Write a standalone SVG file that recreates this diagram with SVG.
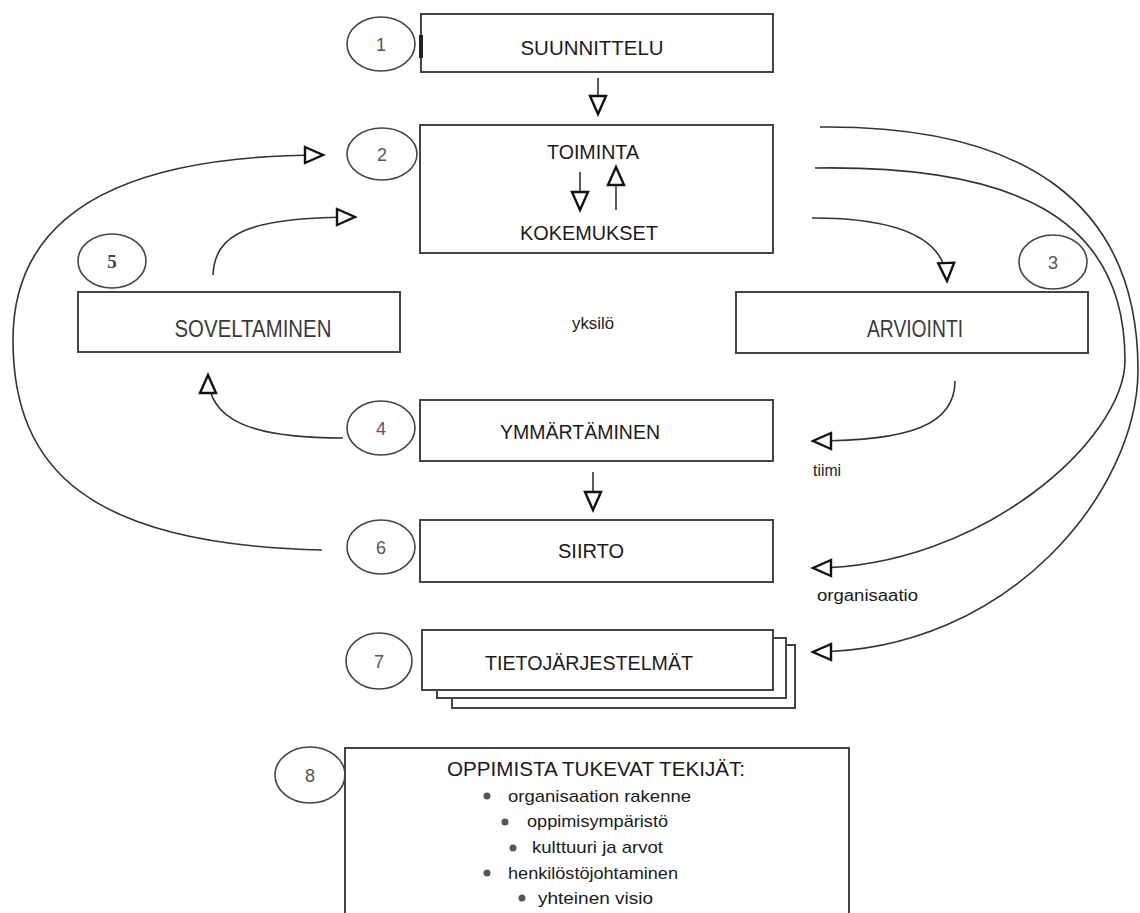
<svg xmlns="http://www.w3.org/2000/svg" width="1140" height="913" viewBox="0 0 1140 913">
  <style>
    .box { fill: #fff; stroke: #444; stroke-width: 2; }
    .num { fill: none; stroke: #444; stroke-width: 1.6; }
    .lbl { font-family: "Liberation Sans", Arial, sans-serif; font-size: 20px; fill: #1a1a1a; text-anchor: middle; }
    .narrow { font-family: "Liberation Sans", Arial, sans-serif; font-size: 24px; fill: #3a3a3a; text-anchor: middle; }
    .digit { font-family: "Liberation Sans", Arial, sans-serif; font-size: 18px; fill: #555; text-anchor: middle; }
    .small { font-family: "Liberation Sans", Arial, sans-serif; font-size: 16px; fill: #1a1a1a; }
    .item { font-family: "Liberation Sans", Arial, sans-serif; font-size: 17px; fill: #1a1a1a; }
    .dot { fill: #555; }
    .link { fill: none; stroke: #333; stroke-width: 1.6; }
  </style>
  <defs>
    <marker id="tri" viewBox="0 0 22 20" refX="20" refY="10" markerWidth="22" markerHeight="20" markerUnits="userSpaceOnUse" orient="auto" overflow="visible">
      <path d="M2,2 L20,10 L2,18 Z" fill="#fff" stroke="#111" stroke-width="2.4" stroke-linejoin="miter"/>
    </marker>
  </defs>
  <rect width="1140" height="913" fill="#fff"/>

  <!-- 1 Suunnittelu -->
  <g id="node1">
    <rect class="box" x="421" y="14" width="352" height="58"/>
    <line x1="421" y1="35" x2="421" y2="58" stroke="#222" stroke-width="4"/>
    <ellipse class="num" cx="381" cy="44" rx="34" ry="27"/>
    <text class="digit" x="381" y="51">1</text>
    <text class="lbl" x="592" y="55" textLength="143" lengthAdjust="spacingAndGlyphs">SUUNNITTELU</text>
  </g>

  <!-- 2 Toiminta / Kokemukset -->
  <g id="node2">
    <rect class="box" x="420" y="125" width="353" height="128"/>
    <ellipse class="num" cx="382" cy="154" rx="35" ry="26"/>
    <text class="digit" x="382" y="161">2</text>
    <text class="lbl" x="593" y="159" textLength="92" lengthAdjust="spacingAndGlyphs">TOIMINTA</text>
    <text class="lbl" x="589" y="240" textLength="138" lengthAdjust="spacingAndGlyphs">KOKEMUKSET</text>
  </g>

  <!-- 3 Arviointi -->
  <g id="node3">
    <rect class="box" x="736" y="292" width="352" height="61"/>
    <ellipse class="num" cx="1053" cy="262" rx="34" ry="27"/>
    <text class="digit" x="1053" y="269">3</text>
    <text class="narrow" x="915" y="337" textLength="96" lengthAdjust="spacingAndGlyphs">ARVIOINTI</text>
  </g>

  <!-- 5 Soveltaminen -->
  <g id="node5">
    <rect class="box" x="78" y="292" width="322" height="60"/>
    <ellipse class="num" cx="112" cy="261" rx="34" ry="27"/>
    <text x="112" y="268" font-family="'Liberation Serif', 'Times New Roman', serif" font-size="19" font-weight="bold" fill="#444" text-anchor="middle">5</text>
    <text class="narrow" x="253" y="337" textLength="157" lengthAdjust="spacingAndGlyphs">SOVELTAMINEN</text>
  </g>

  <!-- centre label -->
  <g id="yksilo">
    <text class="small" x="593" y="329" text-anchor="middle" textLength="42" lengthAdjust="spacingAndGlyphs">yksilö</text>
  </g>

  <!-- 4 Ymmärtäminen -->
  <g id="node4">
    <rect class="box" x="420" y="400" width="353" height="61"/>
    <ellipse class="num" cx="381" cy="428" rx="34" ry="27"/>
    <text class="digit" x="381" y="435">4</text>
    <text class="lbl" x="580" y="439" textLength="160" lengthAdjust="spacingAndGlyphs">YMMÄRTÄMINEN</text>
  </g>

  <g id="tiimi">
    <text class="small" x="813" y="476" textLength="28" lengthAdjust="spacingAndGlyphs">tiimi</text>
  </g>

  <!-- 6 Siirto -->
  <g id="node6">
    <rect class="box" x="420" y="520" width="353" height="62"/>
    <ellipse class="num" cx="381" cy="547" rx="34" ry="27"/>
    <text class="digit" x="381" y="554">6</text>
    <text class="lbl" x="591" y="558" textLength="66" lengthAdjust="spacingAndGlyphs">SIIRTO</text>
  </g>

  <g id="organisaatio">
    <text class="small" x="817" y="601" textLength="101" lengthAdjust="spacingAndGlyphs">organisaatio</text>
  </g>

  <!-- 7 Tietojärjestelmät (stacked sheets) -->
  <g id="node7">
    <rect class="box" x="452" y="645" width="343" height="63" stroke-width="1.6"/>
    <rect class="box" x="437" y="638" width="349" height="60" stroke-width="1.6"/>
    <rect class="box" x="422" y="630" width="351" height="60"/>
    <ellipse class="num" cx="379" cy="661" rx="33" ry="28"/>
    <text class="digit" x="379" y="668">7</text>
    <text class="lbl" x="589" y="670" textLength="208" lengthAdjust="spacingAndGlyphs">TIETOJÄRJESTELMÄT</text>
  </g>

  <!-- 8 Oppimista tukevat tekijät -->
  <g id="node8">
    <rect class="box" x="345" y="748" width="504" height="180"/>
    <ellipse class="num" cx="310" cy="775" rx="35" ry="28"/>
    <text class="digit" x="310" y="782">8</text>
    <text class="lbl" x="596" y="776" font-size="18" textLength="298" lengthAdjust="spacingAndGlyphs">OPPIMISTA TUKEVAT TEKIJÄT:</text>
    <circle class="dot" cx="487" cy="796" r="3.5"/>
    <text class="item" x="508" y="802" textLength="183" lengthAdjust="spacingAndGlyphs">organisaation rakenne</text>
    <circle class="dot" cx="505" cy="822" r="3.5"/>
    <text class="item" x="527" y="827" textLength="141" lengthAdjust="spacingAndGlyphs">oppimisympäristö</text>
    <circle class="dot" cx="513" cy="848" r="3.5"/>
    <text class="item" x="532" y="853" textLength="131" lengthAdjust="spacingAndGlyphs">kulttuuri ja arvot</text>
    <circle class="dot" cx="487" cy="873" r="3.5"/>
    <text class="item" x="508" y="879" textLength="170" lengthAdjust="spacingAndGlyphs">henkilöstöjohtaminen</text>
    <circle class="dot" cx="522" cy="898" r="3.5"/>
    <text class="item" x="538" y="904" textLength="115" lengthAdjust="spacingAndGlyphs">yhteinen visio</text>
  </g>

  <!-- connectors, drawn last so the inner arrows sit above the box fill -->
  <g id="connectors">
    <!-- 1 -> 2 -->
    <path class="link" d="M598 78 L598 114" marker-end="url(#tri)"/>
    <!-- toiminta <-> kokemukset -->
    <path class="link" d="M580 172 L580 210" marker-end="url(#tri)"/>
    <path class="link" d="M616 210 L616 167" marker-end="url(#tri)"/>
    <!-- 2 -> 3 -->
    <path class="link" d="M812 218 C890 218 945 235 947 281" marker-end="url(#tri)"/>
    <!-- 3 -> tiimi -->
    <path class="link" d="M955 381 C955 425 910 441 813 441" marker-end="url(#tri)"/>
    <!-- 2 -> organisaatio -->
    <path class="link" d="M815 168 C1010 165 1125 215 1125 360 C1125 440 980 568 813 568" marker-end="url(#tri)"/>
    <!-- 2 -> tietojärjestelmät -->
    <path class="link" d="M820 127 C1020 125 1138 200 1138 370 C1138 490 1010 652 813 652" marker-end="url(#tri)"/>
    <!-- 4 -> 5 -->
    <path class="link" d="M343 438 C250 438 208 420 208 375" marker-end="url(#tri)"/>
    <!-- 5 -> 2 -->
    <path class="link" d="M213 275 C215 235 245 217 355 217" marker-end="url(#tri)"/>
    <!-- 6 -> 2 (outer loop) -->
    <path class="link" d="M322 550 C90 545 13 470 13 340 C13 220 110 155 323 155" marker-end="url(#tri)"/>
    <!-- 4 -> 6 -->
    <path class="link" d="M593 472 L593 510" marker-end="url(#tri)"/>
  </g>
</svg>
